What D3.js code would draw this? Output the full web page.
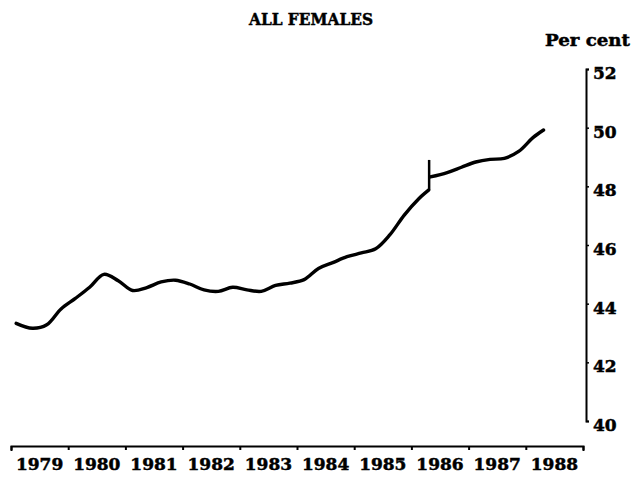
<!DOCTYPE html>
<html>
<head>
<meta charset="utf-8">
<script src="https://cdn.jsdelivr.net/npm/d3@7"></script>
<style>
  html, body { margin: 0; padding: 0; background: #fff; }
  svg { display: block; }
  text { font-family: "DejaVu Serif", serif; font-weight: bold; fill: #000; stroke: #000; stroke-width: 0.5px; }
</style>
</head>
<body>
<svg id="chart" width="643" height="478"></svg>
<script>
// ---- data ----
const title = "ALL FEMALES";
const unitLabel = "Per cent";
const years = [1979, 1980, 1981, 1982, 1983, 1984, 1985, 1986, 1987, 1988];
const yTickValues = [40, 42, 44, 46, 48, 50, 52];

// series before the 1986 discontinuity (decimal year, per cent)
const datesBefore = [1979.09, 1979.375, 1979.625, 1979.875, 1980.125, 1980.375, 1980.625, 1980.875,
  1981.125, 1981.375, 1981.625, 1981.875, 1982.125, 1982.375, 1982.625, 1982.875,
  1983.125, 1983.375, 1983.625, 1983.875, 1984.125, 1984.375, 1984.625, 1984.875,
  1985.125, 1985.375, 1985.625, 1985.875, 1986.125, 1986.30];
const valuesBefore = [43.33, 43.16, 43.28, 43.82, 44.18, 44.56, 45.0, 44.78,
  44.45, 44.55, 44.74, 44.80, 44.67, 44.47, 44.42, 44.56,
  44.47, 44.42, 44.62, 44.70, 44.82, 45.20, 45.40, 45.60,
  45.73, 45.87, 46.35, 47.02, 47.57, 47.87];

// series after the discontinuity
const datesAfter = [1986.33, 1986.625, 1986.875, 1987.125, 1987.375, 1987.625, 1987.875, 1988.125, 1988.31];
const valuesAfter = [48.32, 48.47, 48.65, 48.83, 48.92, 48.955, 49.19, 49.66, 49.92];

// discontinuity marker
const breakDate = 1986.31;
const breakRange = [47.87, 48.9];

// ---- chart ----
const svg = d3.select("#chart");
const x = d3.scaleLinear().domain([1979, 1989]).range([11, 583]);
const y = d3.scaleLinear().domain([40, 52]).range([421, 69]);

// title
svg.append("text")
  .attr("x", 311).attr("y", 25)
  .attr("text-anchor", "middle")
  .attr("font-size", 17)
  .attr("textLength", 124).attr("lengthAdjust", "spacingAndGlyphs")
  .text(title);

svg.append("text")
  .attr("x", 545).attr("y", 46)
  .attr("font-size", 17)
  .attr("textLength", 85).attr("lengthAdjust", "spacingAndGlyphs")
  .text(unitLabel);

// x axis
const xAxis = d3.axisBottom(x)
  .tickValues(d3.range(1979, 1990))
  .tickSize(4).tickSizeOuter(5)
  .tickFormat("");
const gx = svg.append("g").attr("transform", "translate(0,446)").call(xAxis);
gx.select(".domain").attr("stroke", "#000").attr("stroke-width", 2);
gx.selectAll(".tick line").attr("stroke", "#000").attr("stroke-width", 2);

svg.append("g").selectAll("text.year")
  .data(years).enter().append("text")
  .attr("class", "year")
  .attr("x", d => x(d + 0.5))
  .attr("y", 470)
  .attr("text-anchor", "middle")
  .attr("font-size", 17)
  .text(d => d);

// y axis (right side)
const yAxis = d3.axisRight(y)
  .tickValues(yTickValues)
  .tickSize(3).tickSizeOuter(3)
  .tickPadding(4)
  .tickFormat(d3.format("d"));
const gy = svg.append("g").attr("transform", "translate(586,0)").call(yAxis);
gy.select(".domain").attr("stroke", "#000").attr("stroke-width", 2);
gy.selectAll(".tick line").attr("stroke", "#000").attr("stroke-width", 1.5);
gy.selectAll(".tick text")
  .attr("font-family", "DejaVu Serif, serif")
  .attr("font-weight", "bold")
  .attr("font-size", 17)
  .attr("fill", "#000")
  .attr("dy", "0.55em");

// line
const line = d3.line()
  .x(d => x(d[0]))
  .y(d => y(d[1]))
  .curve(d3.curveCatmullRom.alpha(0.5));

const seg1 = datesBefore.map((d, i) => [d, valuesBefore[i]]);
const seg2 = datesAfter.map((d, i) => [d, valuesAfter[i]]);

[seg1, seg2].forEach(seg => {
  svg.append("path").datum(seg)
    .attr("d", line)
    .attr("fill", "none").attr("stroke", "#000")
    .attr("stroke-width", 3.4).attr("stroke-linejoin", "round").attr("stroke-linecap", "round");
});

svg.append("line")
  .attr("x1", x(breakDate)).attr("x2", x(breakDate))
  .attr("y1", y(breakRange[0])).attr("y2", y(breakRange[1]))
  .attr("stroke", "#000").attr("stroke-width", 2.5);
</script>
</body>
</html>
